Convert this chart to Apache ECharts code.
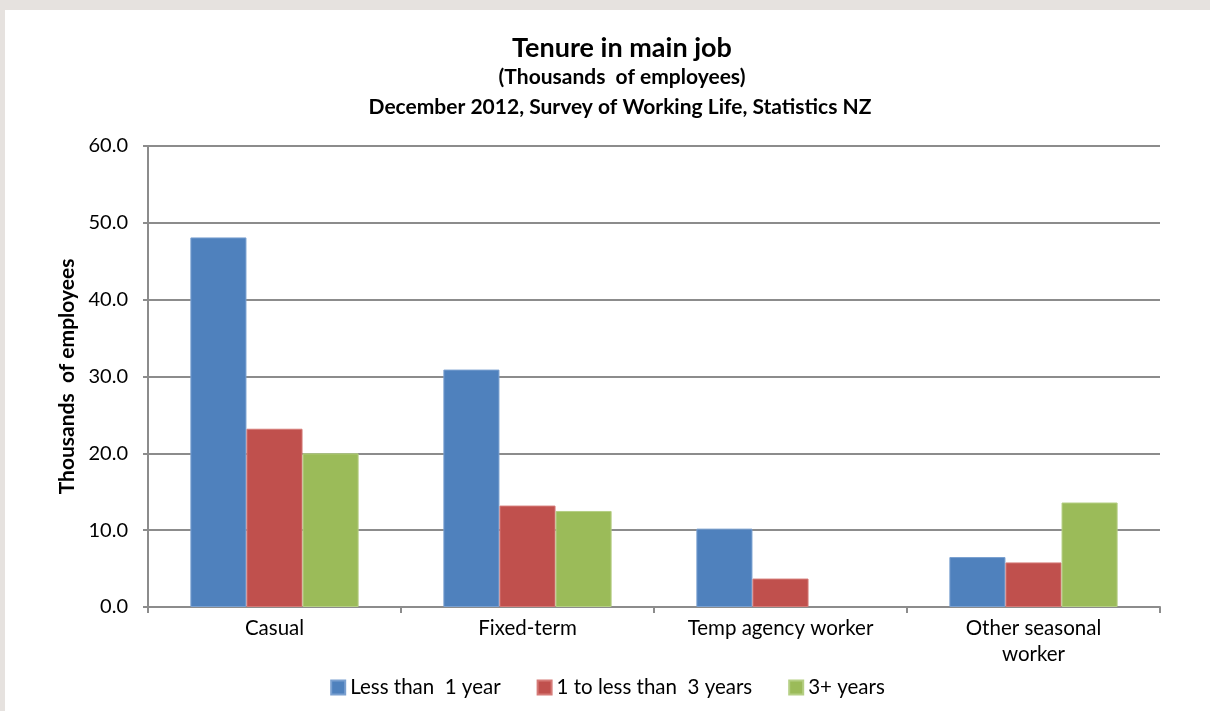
<!DOCTYPE html>
<html><head><meta charset="utf-8">
<script src="https://cdn.jsdelivr.net/npm/echarts@6/dist/echarts.min.js"></script>
<style>
html,body{margin:0;padding:0;background:#e6e2df;width:1210px;height:711px;overflow:hidden;}
#c{position:absolute;left:5px;top:10px;width:1205px;height:701px;background:#fff;}
</style></head><body>
<div id="c"></div>
<script>
const categories = ['Casual', 'Fixed-term', 'Temp agency worker', 'Other seasonal\nworker'];
const seriesNames = ['Less than  1 year', '1 to less than  3 years', '3+ years'];
const lessThan1 = [48.1, 30.9, 10.2, 6.5];
const oneToThree = [23.2, 13.2, 3.7, 5.8];
const threePlus = [20.0, 12.5, null, 13.6];
const yTicks = [0, 10, 20, 30, 40, 50, 60];
const titleLines = ['Tenure in main job', '(Thousands  of employees)', 'December 2012, Survey of Working Life, Statistics NZ'];

const font = 'Lato, "Open Sans", sans-serif';
const colors = ['#4f81bd', '#c0504d', '#9bbb59'];
const borders = ['#7aa0d0', '#d57a77', '#b5cf84'];
const chart = echarts.init(document.getElementById('c'), null, {renderer: 'canvas'});
const data = [lessThan1, oneToThree, threePlus];
chart.setOption({
  animation: false,
  textStyle: {fontFamily: font},
  graphic: [
    {type: 'text', x: 617, y: 38, style: {text: titleLines[0], font: 'bold 27px ' + font, fill: '#000', textAlign: 'center', textVerticalAlign: 'middle'}},
    {type: 'text', x: 617, y: 67, style: {text: titleLines[1], font: 'bold 21px ' + font, fill: '#000', textAlign: 'center', textVerticalAlign: 'middle'}},
    {type: 'text', x: 615, y: 97.5, style: {text: titleLines[2], font: 'bold 21px ' + font, fill: '#000', textAlign: 'center', textVerticalAlign: 'middle'}}
  ],
  legend: {
    left: 'center', top: 662, itemWidth: 14, itemHeight: 14, itemGap: 36,
    icon: 'rect',
    textStyle: {fontSize: 20.5, color: '#000', fontFamily: font},
    data: seriesNames
  },
  grid: {left: 143, right: 50, top: 136, bottom: 104, containLabel: false},
  xAxis: {
    type: 'category', data: categories,
    axisLine: {lineStyle: {color: '#8c8c8c', width: 2}},
    axisTick: {show: true, length: 6, inside: false, lineStyle: {color: '#8c8c8c', width: 2}},
    axisLabel: {fontSize: 20.5, color: '#000', margin: 8, lineHeight: 26, fontFamily: font}
  },
  yAxis: {
    type: 'value', min: yTicks[0], max: yTicks[yTicks.length - 1], interval: 10,
    name: 'Thousands  of employees', nameLocation: 'middle', nameRotate: 90, nameGap: 69,
    nameTextStyle: {fontSize: 21, fontWeight: 'bold', color: '#000', fontFamily: font},
    axisLine: {show: true, lineStyle: {color: '#8c8c8c', width: 2}},
    axisTick: {show: true, length: 5, inside: false, lineStyle: {color: '#8c8c8c', width: 2}},
    axisLabel: {fontSize: 20, color: '#000', margin: 20, formatter: v => v.toFixed(1), fontFamily: font},
    splitLine: {show: true, lineStyle: {color: '#8c8c8c', width: 2}}
  },
  series: seriesNames.map((n, i) => ({
    name: n, type: 'bar', data: data[i],
    barGap: '0%', barCategoryGap: '33.5%',
    itemStyle: {color: colors[i], borderColor: borders[i], borderWidth: 1}
  }))
});
</script>
</body></html>
